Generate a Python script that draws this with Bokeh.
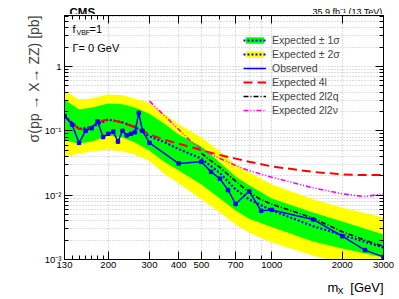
import numpy as np
from bokeh.plotting import figure
from bokeh.layouts import column
from bokeh.models import (FixedTicker, LogAxis, Label, Legend, LegendItem, Range1d, Title)
from bokeh.embed import file_html
from bokeh.resources import INLINE

# ---------------- data ----------------
mass_obs = [130, 140, 150, 160, 170, 180, 190, 200, 210, 220, 230, 240, 250, 260, 270, 280, 300,
            400, 500, 550, 600, 650, 700, 800, 900, 1000, 1500, 2000, 2500, 3000]
obs = [0.17, 0.125, 0.065, 0.10, 0.11, 0.14, 0.08, 0.09, 0.097, 0.068, 0.10, 0.085, 0.09, 0.095,
       0.19, 0.10, 0.065, 0.031, 0.033, 0.023, 0.018, 0.012, 0.0073, 0.0115, 0.0057, 0.0059,
       0.0042, 0.0023, 0.0014, 0.0011]

mass_exp = [130, 150, 170, 200, 230, 260, 300, 350, 400, 500, 600, 700, 800, 1000, 1500, 2000, 3000]
exp_median = [0.17, 0.107, 0.115, 0.15, 0.135, 0.115, 0.082, 0.066, 0.052, 0.037, 0.022, 0.0123,
              0.0086, 0.0058, 0.0033, 0.0024, 0.00154]
exp_p2 = [0.425, 0.307, 0.319, 0.368, 0.356, 0.319, 0.27, 0.18, 0.126, 0.0788, 0.0479, 0.030,
          0.0225, 0.0147, 0.0086, 0.0064, 0.0045]
exp_p1 = [0.307, 0.215, 0.231, 0.267, 0.258, 0.231, 0.185, 0.126, 0.088, 0.0572, 0.0323, 0.0195,
          0.0142, 0.0089, 0.0054, 0.0039, 0.00245]
exp_m1 = [0.071, 0.0637, 0.0684, 0.0847, 0.0788, 0.066, 0.049, 0.0323, 0.0242, 0.0147, 0.0089,
          0.0058, 0.0043, 0.0032, 0.0019, 0.00148, 0.00107]
exp_m2 = [0.040, 0.0446, 0.0479, 0.0514, 0.0479, 0.043, 0.034, 0.021, 0.0152, 0.0086, 0.0054,
          0.0035, 0.0026, 0.00184, 0.00115, 0.00087, 0.00065]

mass_4l = [130, 140, 150, 160, 170, 180, 190, 200, 220, 250, 280, 300, 350, 400, 450, 500, 600,
           700, 800, 1000, 1500, 2000, 2500, 3000]
exp_4l = [0.17, 0.13, 0.107, 0.105, 0.115, 0.13, 0.145, 0.15, 0.14, 0.12, 0.10, 0.088, 0.072,
          0.063, 0.056, 0.05, 0.042, 0.037, 0.033, 0.028, 0.023, 0.021, 0.0205, 0.0205]

mass_2l2q = [500, 550, 600, 700, 800, 900, 1000, 1200, 1500, 2000, 2500, 3000]
exp_2l2q = [0.045, 0.034, 0.027, 0.0165, 0.011, 0.0085, 0.0072, 0.0058, 0.0044, 0.0027, 0.002,
            0.0016]

mass_2l2v = [300, 350, 400, 450, 500, 600, 700, 800, 1000, 1200, 1500, 2000, 2500, 3000]
exp_2l2v = [0.29, 0.168, 0.105, 0.069, 0.052, 0.037, 0.029, 0.024, 0.019, 0.016, 0.013, 0.0105,
            0.0095, 0.0105]

x_tick_vals = [130, 200, 300, 400, 500, 700, 1000, 2000, 3000]
x_tick_labels = ["130", "200", "300", "400", "500", "700", "1000", "2000", "3000"]
y_tick_vals = [0.001, 0.01, 0.1, 1]
y_tick_labels = ["10\u207b\u00b3", "10\u207b\u00b2", "10\u207b\u00b9", "1"]

FONT = "Liberation Sans"
W = 398
HEAD_H = 14
FOOT_H = 21
LEFT = 64     # frame left border (shared by all stacked figures)
RIGHT = 15


def blank_fig(h):
    f = figure(width=W, height=h, x_range=Range1d(0, 319), y_range=Range1d(0, h), title=None,
               output_backend="svg", toolbar_location=None,
               x_axis_location=None, y_axis_location=None,
               min_border_left=LEFT, min_border_right=RIGHT, min_border_top=0,
               min_border_bottom=0)
    f.outline_line_color = None
    f.grid.visible = False
    f.background_fill_color = "white"
    f.border_fill_color = "white"
    return f


def slab(fig, text, x, y, size, **kw):
    # x, y in pixels from the frame's bottom-left corner
    fig.add_layout(Label(x=x, y=y, x_units="screen", y_units="screen", text=text,
                         text_font=FONT, text_font_size=size, text_color="black",
                         text_baseline="alphabetic", **kw))


# ---------------- header (CMS / lumi) ----------------
head = blank_fig(HEAD_H)
slab(head, "CMS", 5, 3, "11.5px", text_font_style="bold")
slab(head, "35.9 fb\u207b\u00b9 (13 TeV)", 318, 3, "9px", text_align="right")

# ---------------- main plot ----------------
p = figure(frame_width=319, frame_height=244, x_axis_type="log", y_axis_type="log",
           x_range=Range1d(130, 3000), y_range=Range1d(1e-3, 6.2), title=None,
           output_backend="svg", toolbar_location=None,
           min_border_left=LEFT, min_border_right=RIGHT, min_border_top=1, min_border_bottom=16)
p.outline_line_color = "black"
p.outline_line_width = 1
p.background_fill_color = "white"
p.border_fill_color = "white"

yminor = [k * 10.0 ** e for e in range(-3, 1) for k in range(2, 10)]
xminor = [140, 150, 160, 170, 180, 190, 600, 800, 900]

for ax in p.xaxis:
    ax.ticker = FixedTicker(ticks=x_tick_vals, minor_ticks=xminor)
    ax.major_label_overrides = {v: s for v, s in zip(x_tick_vals, x_tick_labels)}
    ax.major_label_standoff = 2
for ax in p.yaxis:
    ax.ticker = FixedTicker(ticks=y_tick_vals, minor_ticks=yminor)
    ax.major_label_overrides = {v: s for v, s in zip(y_tick_vals, y_tick_labels)}
    ax.major_label_standoff = 3

for ax in list(p.xaxis) + list(p.yaxis):
    ax.major_tick_in = 8
    ax.major_tick_out = 0
    ax.minor_tick_in = 4
    ax.minor_tick_out = 0
    ax.axis_line_color = "black"
    ax.major_label_text_font = FONT
    ax.major_label_text_font_size = "9.5px"
    ax.major_label_text_color = "black"

# extra axes (right / top) with ticks only
rax = LogAxis(ticker=FixedTicker(ticks=y_tick_vals, minor_ticks=yminor))
tax = LogAxis(ticker=FixedTicker(ticks=x_tick_vals, minor_ticks=xminor))
for ax in (rax, tax):
    ax.major_tick_in = 8
    ax.major_tick_out = 0
    ax.minor_tick_in = 4
    ax.minor_tick_out = 0
    ax.major_label_text_alpha = 0
    ax.major_label_text_font_size = "1px"
    ax.major_label_standoff = 0
p.add_layout(rax, "right")
p.add_layout(tax, "above")

# grid
p.xgrid.ticker = FixedTicker(ticks=[200, 300, 400, 500, 600, 700, 800, 900, 1000, 2000, 3000])
p.ygrid.ticker = FixedTicker(ticks=y_tick_vals + yminor)
for g in (p.xgrid, p.ygrid):
    g.grid_line_color = "#bdbdbd"
    g.grid_line_dash = "1 2"
    g.grid_line_width = 1

# glyphs
yel = p.varea(x=mass_exp, y1=exp_m2, y2=exp_p2, fill_color="#ffff00")
grn = p.varea(x=mass_exp, y1=exp_m1, y2=exp_p1, fill_color="#00ff00")
med = p.line(mass_exp, exp_median, line_color="#0000ff", line_width=2.2, line_dash="2 2")
l4l = p.line(mass_4l, exp_4l, line_color="#ff0000", line_width=2, line_dash="9 5")
l2q = p.line(mass_2l2q, exp_2l2q, line_color="black", line_width=1.6, line_dash="5 2 1 2")
l2v = p.line(mass_2l2v, exp_2l2v, line_color="#ff00ff", line_width=1.6, line_dash="5 2 1 2 1 2")
lob = p.line(mass_obs, obs, line_color="#0000ff", line_width=1.5)
sob = p.scatter(mass_obs, obs, marker="square", size=3.5, fill_color="#0000ff", line_color="#0000ff")

legend = Legend(items=[
    LegendItem(label="Expected \u00b1 1\u03c3", renderers=[grn, med]),
    LegendItem(label="Expected \u00b1 2\u03c3", renderers=[yel, med]),
    LegendItem(label="Observed", renderers=[lob]),
    LegendItem(label="Expected 4l", renderers=[l4l]),
    LegendItem(label="Expected 2l2q", renderers=[l2q]),
    LegendItem(label="Expected 2l2\u03bd", renderers=[l2v]),
], location=(177, 141))
legend.background_fill_alpha = 0
legend.border_line_alpha = 0
legend.label_text_font = FONT
legend.label_text_font_size = "10.5px"
legend.glyph_width = 23
legend.glyph_height = 8
legend.label_height = 8
legend.spacing = 2
legend.padding = 2
legend.margin = 0
legend.label_standoff = 6
p.add_layout(legend, "center")

slab(p, "f", 8, 231, "11px")
slab(p, "VBF", 12, 227.5, "7px")
slab(p, "=1", 25, 231, "11px")
slab(p, "\u0393= 0 GeV", 8, 212, "11px")

ytitle = Title(text="\u03c3(pp \u2192 X\u2192 ZZ) [pb]", align="right", text_font=FONT,
               text_font_size="14px", text_font_style="normal", standoff=0)
p.add_layout(ytitle, "left")

# ---------------- footer (x title) ----------------
foot = blank_fig(FOOT_H)
slab(foot, "[GeV]", 319, 9, "13px", text_align="right")
slab(foot, "X", 273, 6, "9px")
slab(foot, "m", 263, 9, "13px")

layout = column(head, p, foot, spacing=0)
open("out.html", "w").write(file_html(layout, INLINE))
